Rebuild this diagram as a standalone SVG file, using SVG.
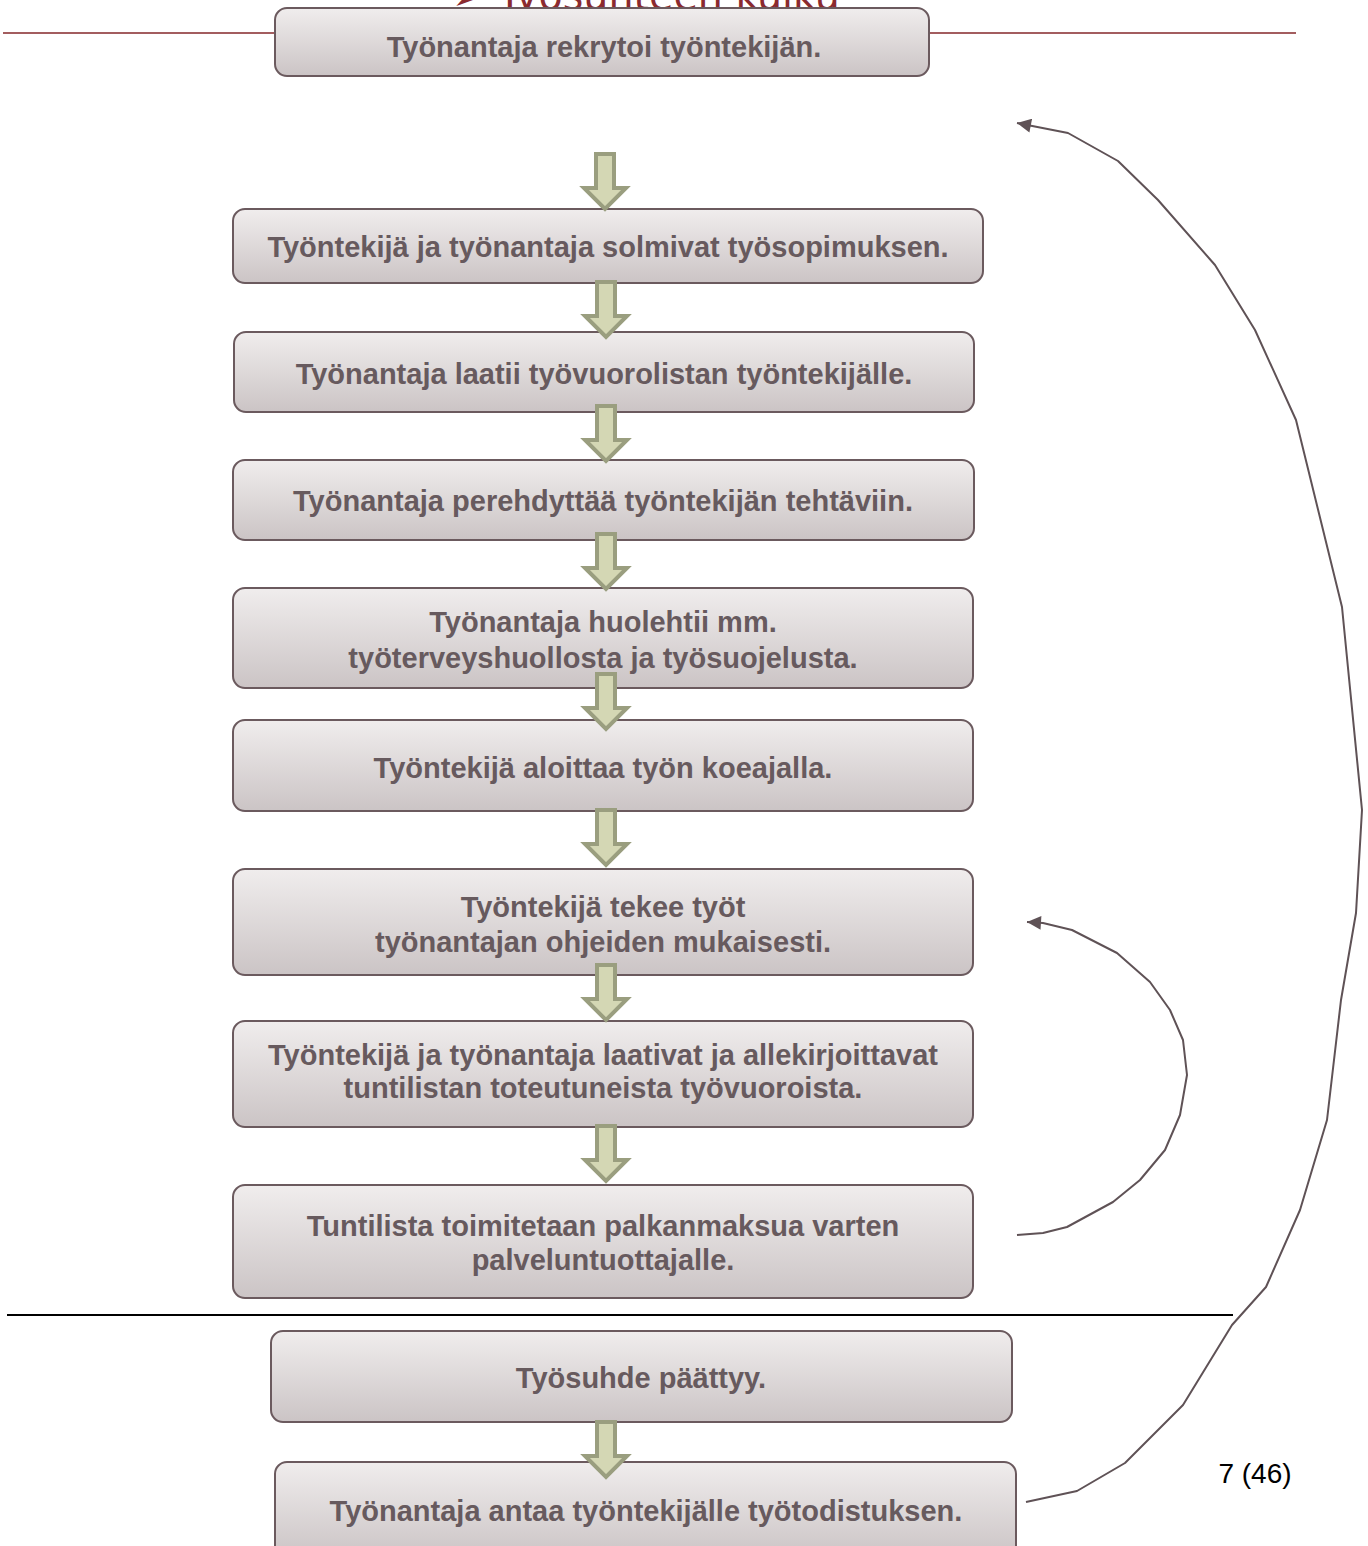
<svg xmlns="http://www.w3.org/2000/svg" width="1368" height="1546" viewBox="0 0 1368 1546">
<style>
.box{fill:url(#g);stroke:#6b5a5e;stroke-width:2}
.t{font-family:"Liberation Sans",Arial,sans-serif;font-weight:bold;font-size:29px;fill:#675a5e;text-anchor:middle}
.blk{fill:#d4d7b4;stroke:#9a9e7f;stroke-width:4;stroke-linejoin:miter}
.conn{fill:none;stroke:#5f5256;stroke-width:2;stroke-linejoin:round}
</style>
<defs>
<linearGradient id="g" x1="0" y1="0" x2="0" y2="1">
<stop offset="0" stop-color="#f0eded"/>
<stop offset="1" stop-color="#cbc4c5"/>
</linearGradient>
<path id="dn" class="blk" d="M-9,0 H9 V34 H21 L0,55 L-21,34 H-9 Z"/>
<marker id="ah" viewBox="0 0 10 10" refX="10" refY="5" markerUnits="userSpaceOnUse" markerWidth="15" markerHeight="14" orient="auto">
<path d="M0,0 L10,5 L0,10 Z" fill="#5f5256"/>
</marker>
</defs>
<rect width="1368" height="1546" fill="#ffffff"/>
<text x="452" y="10" font-family="Liberation Sans Narrow,DejaVu Sans Condensed,sans-serif" font-size="44" fill="#8b2a2f">➢ Työsuhteen kulku</text>
<line x1="3" y1="33" x2="1296" y2="33" stroke="#a35d5f" stroke-width="2"/>
<line x1="7" y1="1315" x2="1233" y2="1315" stroke="#000" stroke-width="2"/>
<text x="1255" y="1483" font-family="Liberation Sans,Arial,sans-serif" font-size="28" fill="#000" text-anchor="middle">7 (46)</text>
<g id="n1"><rect class="box" x="275" y="8" width="654" height="68" rx="12"/><text class="t" x="604" y="57">Työnantaja rekrytoi työntekijän.</text></g>
<g id="n2"><rect class="box" x="233" y="209" width="750" height="74" rx="12"/><text class="t" x="608" y="257">Työntekijä ja työnantaja solmivat työsopimuksen.</text></g>
<g id="n3"><rect class="box" x="234" y="332" width="740" height="80" rx="12"/><text class="t" x="604" y="384">Työnantaja laatii työvuorolistan työntekijälle.</text></g>
<g id="n4"><rect class="box" x="233" y="460" width="741" height="80" rx="12"/><text class="t" x="603" y="511">Työnantaja perehdyttää työntekijän tehtäviin.</text></g>
<g id="n5"><rect class="box" x="233" y="588" width="740" height="100" rx="12"/><text class="t" x="603" y="632">Työnantaja huolehtii mm.</text><text class="t" x="603" y="668">työterveyshuollosta ja työsuojelusta.</text></g>
<g id="n6"><rect class="box" x="233" y="720" width="740" height="91" rx="12"/><text class="t" x="603" y="778">Työntekijä aloittaa työn koeajalla.</text></g>
<g id="n7"><rect class="box" x="233" y="869" width="740" height="106" rx="12"/><text class="t" x="603" y="917">Työntekijä tekee työt</text><text class="t" x="603" y="952">työnantajan ohjeiden mukaisesti.</text></g>
<g id="n8"><rect class="box" x="233" y="1021" width="740" height="106" rx="12"/><text class="t" x="603" y="1065">Työntekijä ja työnantaja laativat ja allekirjoittavat</text><text class="t" x="603" y="1098">tuntilistan toteutuneista työvuoroista.</text></g>
<g id="n9"><rect class="box" x="233" y="1185" width="740" height="113" rx="12"/><text class="t" x="603" y="1236">Tuntilista toimitetaan palkanmaksua varten</text><text class="t" x="603" y="1270">palveluntuottajalle.</text></g>
<g id="n10"><rect class="box" x="271" y="1331" width="741" height="91" rx="12"/><text class="t" x="641" y="1388">Työsuhde päättyy.</text></g>
<g id="n11"><rect class="box" x="275" y="1462" width="741" height="96" rx="12"/><text class="t" x="646" y="1521">Työnantaja antaa työntekijälle työtodistuksen.</text></g>
<g id="connectors">
<use href="#dn" x="605" y="154"/>
<use href="#dn" x="606" y="282"/>
<use href="#dn" x="606" y="406"/>
<use href="#dn" x="606" y="534"/>
<use href="#dn" x="606" y="674"/>
<use href="#dn" x="606" y="810"/>
<use href="#dn" x="606" y="965"/>
<use href="#dn" x="606" y="1126"/>
<use href="#dn" x="606" y="1422"/>
<polyline class="conn" marker-end="url(#ah)" points="1026,1502 1077,1491 1125,1463 1183,1405 1232,1325 1266,1287 1300,1210 1327,1120 1341,1000 1356,913 1362,810 1342,607 1296,420 1255,330 1215,265 1158,200 1118,161 1068,133 1017,123"/>
<polyline class="conn" marker-end="url(#ah)" points="1017,1235 1043,1233 1067,1227 1113,1202 1140,1180 1165,1150 1180,1115 1187,1075 1183,1040 1170,1010 1150,982 1117,953 1072,930 1043,923 1027,922"/>
</g>
</svg>
